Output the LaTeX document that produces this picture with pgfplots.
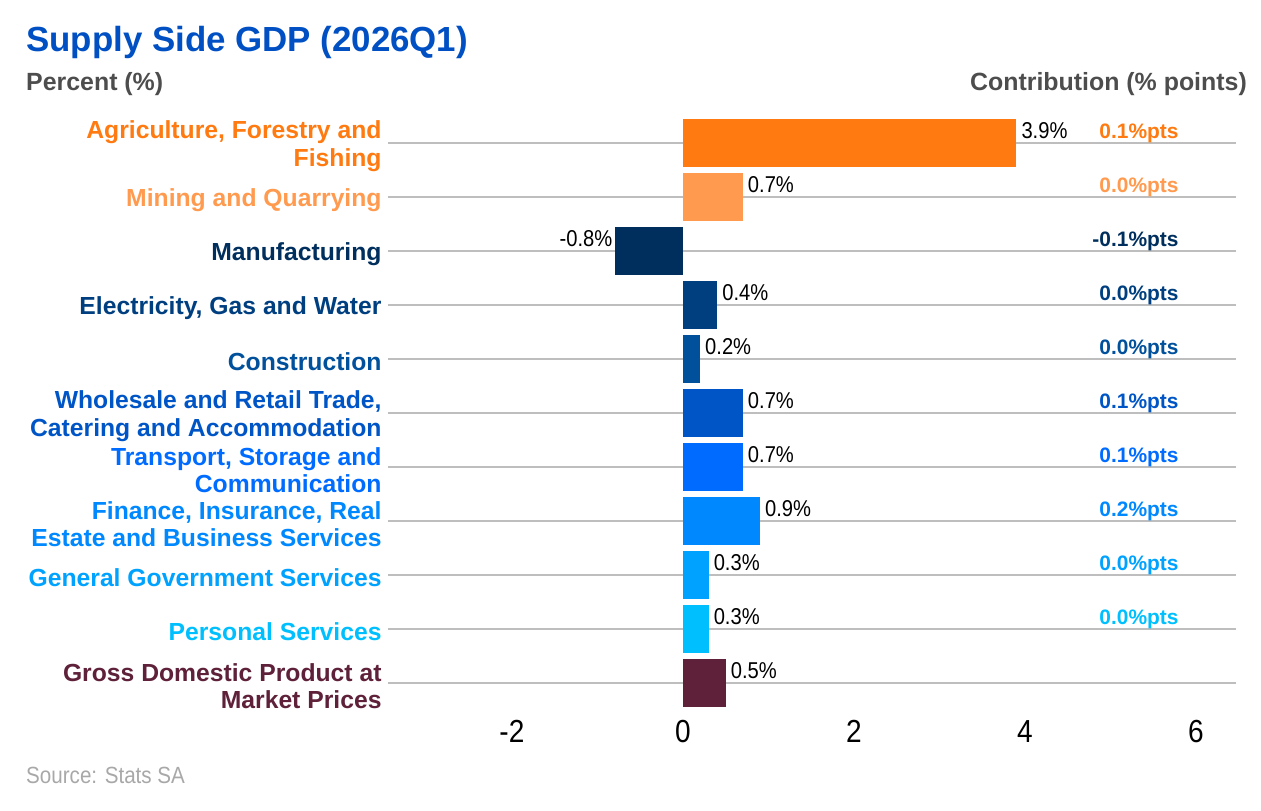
\documentclass[border=0pt]{standalone}
\usepackage{pgfplots}
\pgfplotsset{compat=1.18}
\usepackage{fontspec}
\setmainfont{Liberation Sans}
\newfontfamily\narrowfont[FakeStretch=0.88]{Liberation Sans}

% sector colours
\definecolor{cAgri}{HTML}{FF7A10}
\definecolor{cMine}{HTML}{FF9A4E}
\definecolor{cManu}{HTML}{002F5E}
\definecolor{cElec}{HTML}{003F7F}
\definecolor{cCons}{HTML}{00509C}
\definecolor{cTrade}{HTML}{0055C6}
\definecolor{cTrans}{HTML}{006CFF}
\definecolor{cFin}{HTML}{0088FF}
\definecolor{cGov}{HTML}{00A2FF}
\definecolor{cPers}{HTML}{00BFFF}
\definecolor{cGDP}{HTML}{5E2139}
\definecolor{titleblue}{HTML}{0050C4}
\definecolor{subgrey}{HTML}{4D4D4D}
\definecolor{srcgrey}{HTML}{A8A8A8}
\definecolor{gridgrey}{HTML}{BEBEBE}

\pgfplotsset{
  sectorbar/.style={
    draw=none, fill=#1,
    nodes near coords={\pgfmathprintnumber[fixed,precision=1,fixed zerofill,assume math mode=true]{\pgfplotspointmeta}\%},
    point meta=x,
    nodes near coords style={anchor=base west, inner sep=0pt, xshift=5bp, yshift=5bp,
      font=\narrowfont\fontsize{23}{23}\selectfont, text=black},
  },
}

\begin{document}
\begin{tikzpicture}
\begin{axis}[
  at={(0,0)}, anchor=south west,
  scale only axis, width=848bp, height=594bp,
  xmin=-3.45, xmax=6.47,
  ymin=-0.5, ymax=10.5, y dir=reverse,
  xbar, bar width=0.9, bar shift=0pt,
  axis line style={draw=none},
  major tick style={draw=none},
  xtick={-2,0,2,4,6},
  ytick={0,1,2,3,4,5,6,7,8,9,10},
  yticklabels={
    {\color{cAgri}Agriculture, Forestry and\\\color{cAgri}Fishing},
    {\color{cMine}Mining and Quarrying},
    {\color{cManu}Manufacturing},
    {\color{cElec}Electricity, Gas and Water},
    {\color{cCons}Construction},
    {\color{cTrade}Wholesale and Retail Trade,\\\color{cTrade}Catering and Accommodation},
    {\color{cTrans}Transport, Storage and\\\color{cTrans}Communication},
    {\color{cFin}Finance, Insurance, Real\\\color{cFin}Estate and Business Services},
    {\color{cGov}General Government Services},
    {\color{cPers}Personal Services},
    {\color{cGDP}Gross Domestic Product at\\\color{cGDP}Market Prices}},
  yticklabel style={align=right, anchor=east, inner sep=0pt, xshift=-2bp, yshift=-3bp,
    font=\bfseries\fontsize{24.8}{27.5}\selectfont},
  xticklabel style={anchor=north, inner sep=0pt, yshift=-10bp,
    font=\narrowfont\fontsize{32}{32}\selectfont},
  /pgf/number format/assume math mode=true,
  ymajorgrids,
  major grid style={gridgrey, line width=1.8bp},
  clip=false,
]
\addplot[sectorbar=cAgri]  coordinates {(3.9,0)};
\addplot[sectorbar=cMine]  coordinates {(0.7,1)};
\addplot[sectorbar=cManu, nodes near coords style={anchor=base east, xshift=-7bp}] coordinates {(-0.8,2)};
\addplot[sectorbar=cElec]  coordinates {(0.4,3)};
\addplot[sectorbar=cCons]  coordinates {(0.2,4)};
\addplot[sectorbar=cTrade] coordinates {(0.7,5)};
\addplot[sectorbar=cTrans] coordinates {(0.7,6)};
\addplot[sectorbar=cFin]   coordinates {(0.9,7)};
\addplot[sectorbar=cGov]   coordinates {(0.3,8)};
\addplot[sectorbar=cPers]  coordinates {(0.3,9)};
\addplot[sectorbar=cGDP]   coordinates {(0.5,10)};

% contribution to growth, percentage points
\begin{scope}[every node/.style={anchor=base east, inner sep=0pt, yshift=5bp,
    font=\bfseries\fontsize{21}{21}\selectfont}]
\node[text=cAgri]  at (axis cs:5.8,0) {0.1\%pts};
\node[text=cMine]  at (axis cs:5.8,1) {0.0\%pts};
\node[text=cManu]  at (axis cs:5.8,2) {-0.1\%pts};
\node[text=cElec]  at (axis cs:5.8,3) {0.0\%pts};
\node[text=cCons]  at (axis cs:5.8,4) {0.0\%pts};
\node[text=cTrade] at (axis cs:5.8,5) {0.1\%pts};
\node[text=cTrans] at (axis cs:5.8,6) {0.1\%pts};
\node[text=cFin]   at (axis cs:5.8,7) {0.2\%pts};
\node[text=cGov]   at (axis cs:5.8,8) {0.0\%pts};
\node[text=cPers]  at (axis cs:5.8,9) {0.0\%pts};
\end{scope}
\end{axis}

\path[use as bounding box] (-388bp,-101bp) rectangle (873bp,710bp);
\node[anchor=base west, inner sep=0pt, text=titleblue,
  font=\bfseries\fontsize{35}{35}\selectfont] at (-362bp,658bp) {Supply Side GDP (2026Q1)};
\node[anchor=base west, inner sep=0pt, text=subgrey,
  font=\bfseries\fontsize{25}{25}\selectfont] at (-362bp,619bp) {Percent (\%)};
\node[anchor=base east, inner sep=0pt, text=subgrey,
  font=\bfseries\fontsize{25}{25}\selectfont] at (859bp,619bp) {Contribution (\% points)};
\node[anchor=base west, inner sep=0pt, text=srcgrey,
  font=\narrowfont\fontsize{23.5}{24}\selectfont] at (-362bp,-73bp) {Source: Stats SA};
\end{tikzpicture}
\end{document}
